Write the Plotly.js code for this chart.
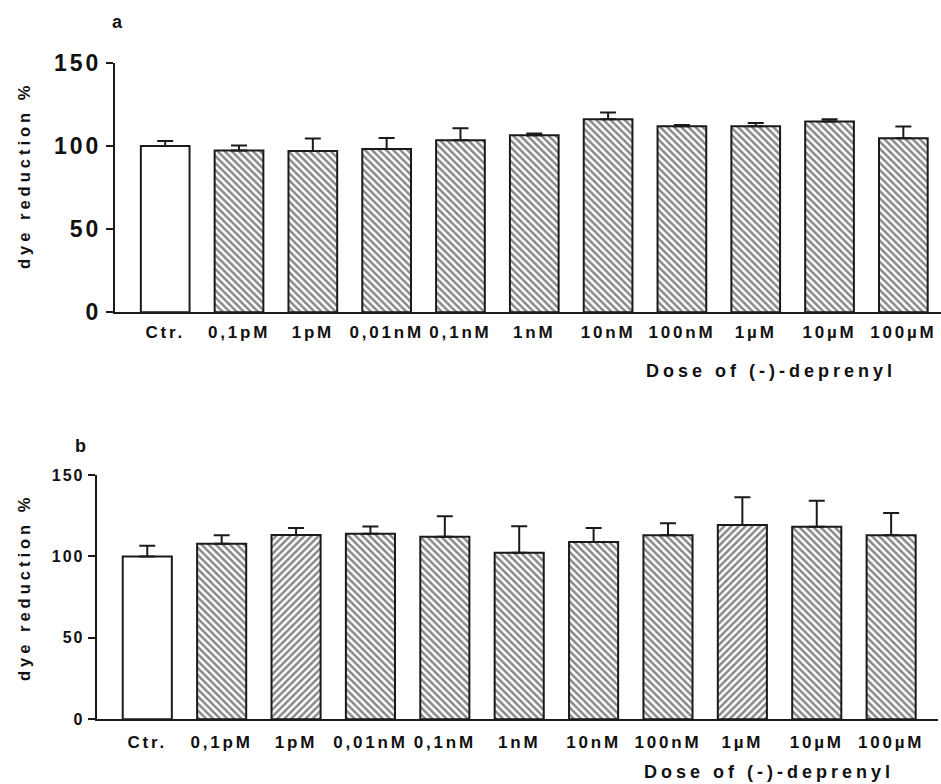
<!DOCTYPE html>
<html>
<head>
<meta charset="utf-8">
<script src="https://cdn.plot.ly/plotly-3.0.1.min.js"></script>
<style>
  html, body { margin: 0; padding: 0; background: #fff; }
  #chart { width: 941px; height: 784px; }
  #chart g.ytick text { letter-spacing: 3px; }
  #chart g.y2tick text { letter-spacing: 2px; }
  #chart g.xtick text, #chart g.x2tick text { letter-spacing: 2.8px; }
  #chart .annotation-text { letter-spacing: 4px; }
</style>
</head>
<body>
<div id="chart"></div>
<script>
// ---- data ----
const categories = ['Ctr.', '0,1pM', '1pM', '0,01nM', '0,1nM', '1nM', '10nM', '100nM', '1µM', '10µM', '100µM'];

// panel a
const aValues = [100, 97.2, 97, 98.2, 103.4, 106.4, 116, 111.8, 111.8, 114.6, 104.6];
const aErrors = [3, 3, 7.5, 6.5, 7.2, 1, 4, 0.8, 2, 1.4, 7];

// panel b
const bValues = [100, 107.8, 113.1, 113.9, 112.1, 102.3, 108.9, 113, 119.3, 118.2, 113];
const bErrors = [6.5, 5.2, 4.3, 4.5, 12.5, 16.2, 8.5, 7.3, 17, 16, 13.6];

const yTickVals = [0, 50, 100, 150];
const yTitle = 'dye reduction %';
const xTitle = 'Dose of (-)-deprenyl';
const panelLabels = ['a', 'b'];

// ---- styles ----
const aPattern = ['', '\\', '\\', '\\', '\\', '\\', '\\', '\\', '\\', '\\', '\\'];
const bPattern = ['', '\\', '/', '\\', '\\', '\\', '\\', '\\', '/', '\\', '\\'];
const ink = '#1a1a1a';
const fam = 'Arial, "Liberation Sans", sans-serif';
const zeros = categories.map(() => 0);
const idx = categories.map((c, i) => i);

function barTrace(vals, errs, pat, xa, ya) {
  return {
    type: 'bar', x: idx, y: vals, xaxis: xa, yaxis: ya,
    width: 0.66,
    marker: {
      color: '#ffffff',
      line: { color: ink, width: 2 },
      pattern: { shape: pat, fgcolor: '#111', bgcolor: '#ffffff', size: 5, solidity: 0.5, fillmode: 'overlay' }
    },
    error_y: { type: 'data', symmetric: false, array: errs, arrayminus: zeros, color: ink, thickness: 2, width: 8 },
    hoverinfo: 'none', showlegend: false
  };
}

const traces = [
  barTrace(aValues, aErrors, aPattern, 'x', 'y'),
  barTrace(bValues, bErrors, bPattern, 'x2', 'y2')
];

const W = 941, H = 784;
const bold = (size) => ({ size: size, family: fam, weight: 'bold', color: '#111' });
const layout = {
  width: W, height: H,
  margin: { l: 0, r: 0, t: 0, b: 0 },
  paper_bgcolor: '#fff', plot_bgcolor: '#fff',
  font: { family: fam, color: '#111', weight: 'bold' },
  xaxis: {
    domain: [115 / W, 1], range: [-0.68, 10.51], anchor: 'y',
    tickmode: 'array', tickvals: idx, ticktext: categories,
    showline: true, linecolor: ink, linewidth: 2, ticks: '', showgrid: false, zeroline: false,
    tickfont: bold(17), ticklabelstandoff: 3,
    fixedrange: true
  },
  yaxis: {
    domain: [1 - 312.3 / H, 1 - 62.7 / H], range: [0, 150], anchor: 'x',
    tickmode: 'array', tickvals: yTickVals,
    showline: true, linecolor: ink, linewidth: 2, ticks: 'outside', ticklen: 7, tickwidth: 2, tickcolor: ink,
    showgrid: false, zeroline: false,
    tickfont: bold(23),
    fixedrange: true
  },
  xaxis2: {
    domain: [96.7 / W, 938 / W], range: [-0.68, 10.63], anchor: 'y2',
    tickmode: 'array', tickvals: idx, ticktext: categories,
    showline: true, linecolor: ink, linewidth: 2, ticks: '', showgrid: false, zeroline: false,
    tickfont: bold(17), ticklabelstandoff: 6,
    fixedrange: true
  },
  yaxis2: {
    domain: [1 - 719.3 / H, 1 - 475 / H], range: [0, 150], anchor: 'x2',
    tickmode: 'array', tickvals: yTickVals,
    showline: true, linecolor: ink, linewidth: 2, ticks: 'outside', ticklen: 7, tickwidth: 2, tickcolor: ink,
    showgrid: false, zeroline: false,
    tickfont: bold(16),
    fixedrange: true
  },
  annotations: [
    { text: panelLabels[0], xref: 'paper', yref: 'paper', x: 112 / W, y: 1 - 22 / H, xanchor: 'left', yanchor: 'middle', showarrow: false, font: bold(18) },
    { text: panelLabels[1], xref: 'paper', yref: 'paper', x: 75 / W, y: 1 - 446 / H, xanchor: 'left', yanchor: 'middle', showarrow: false, font: bold(18) },
    { text: yTitle, xref: 'paper', yref: 'paper', x: 24 / W, y: 1 - 175 / H, xanchor: 'center', yanchor: 'middle', textangle: -90, showarrow: false, font: bold(16.5) },
    { text: yTitle, xref: 'paper', yref: 'paper', x: 24 / W, y: 1 - 587 / H, xanchor: 'center', yanchor: 'middle', textangle: -90, showarrow: false, font: bold(16.5) },
    { text: xTitle, xref: 'paper', yref: 'paper', x: 771 / W, y: 1 - 371 / H, xanchor: 'center', yanchor: 'middle', showarrow: false, font: bold(18) },
    { text: xTitle, xref: 'paper', yref: 'paper', x: 769 / W, y: 1 - 772 / H, xanchor: 'center', yanchor: 'middle', showarrow: false, font: bold(18) }
  ]
};

Plotly.newPlot('chart', traces, layout, { displayModeBar: false, staticPlot: true });
</script>
</body>
</html>
